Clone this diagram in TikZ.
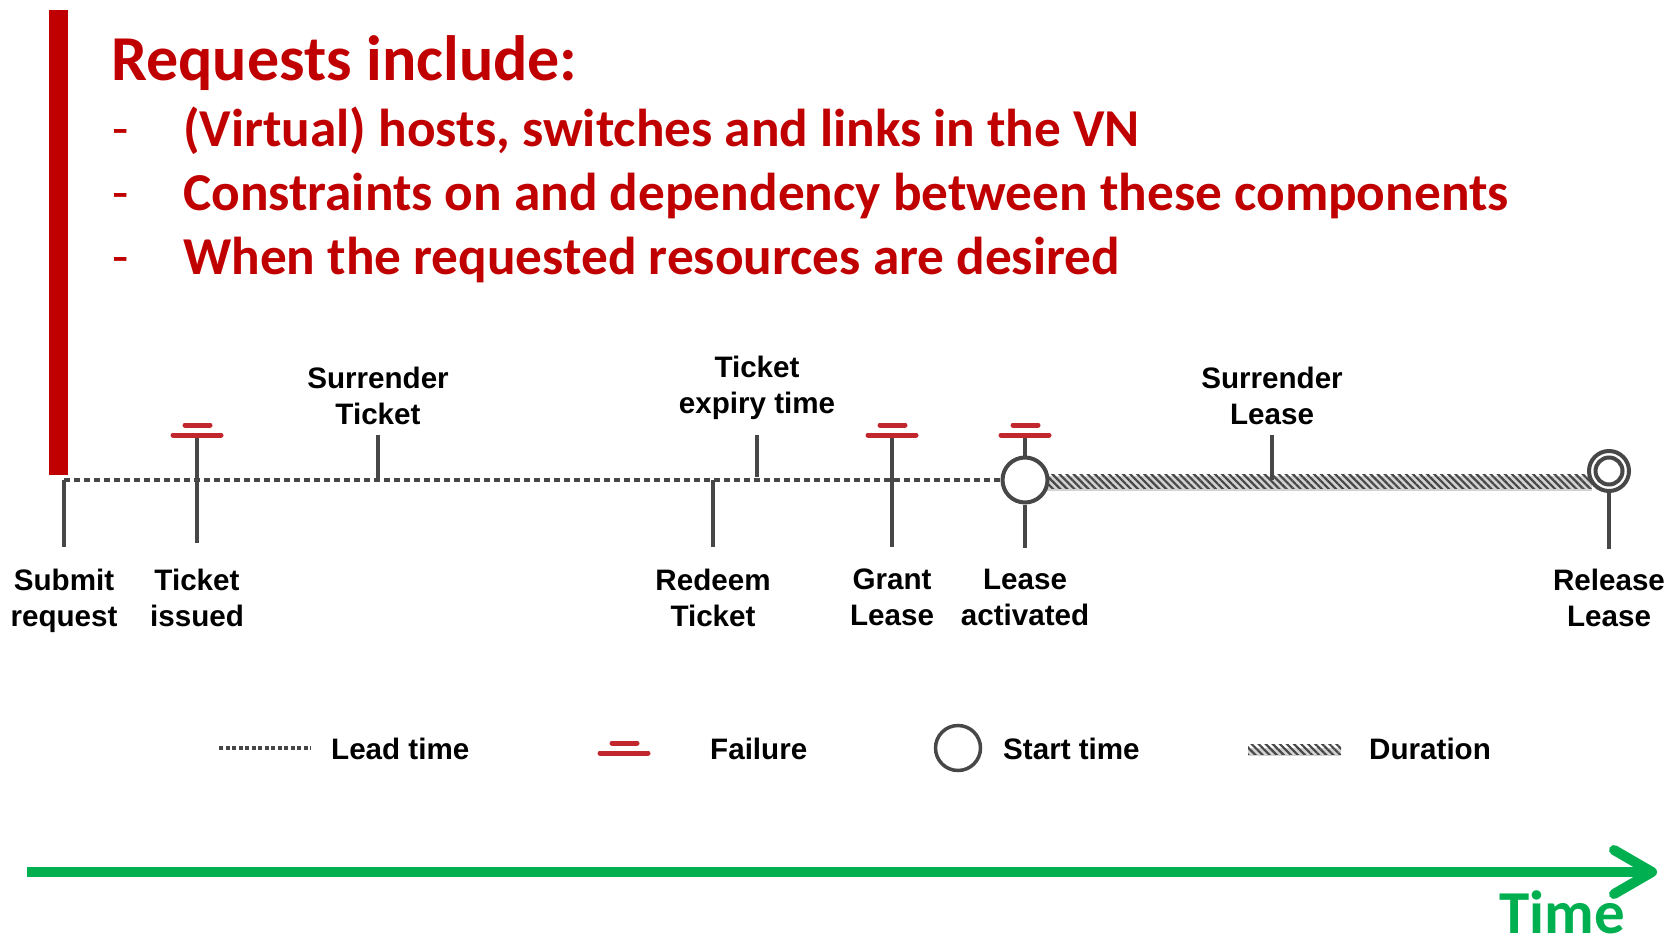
\documentclass[tikz,border=0pt]{standalone}
\usepackage{fontspec}
\setmainfont{Carlito}
\newfontfamily\labfont{Liberation Sans}
\usetikzlibrary{patterns.meta}
\definecolor{titlered}{HTML}{C00000}
\definecolor{failred}{HTML}{C1272D}
\definecolor{tickgray}{HTML}{474747}
\definecolor{timegreen}{HTML}{00B050}
\begin{document}
\begin{tikzpicture}[x=1pt,y=-1pt,
  titletext/.style={anchor=base west, inner sep=0pt, text=titlered, font=\bfseries\fontsize{64}{70}\selectfont},
  bullettext/.style={anchor=base west, inner sep=0pt, text=titlered, font=\bfseries\fontsize{53.3}{60}\selectfont},
  dashtext/.style={anchor=base west, inner sep=0pt, text=titlered, font=\fontsize{53.3}{60}\selectfont},
  lbl/.style={anchor=north, inner sep=0pt, align=center, text=black, font=\labfont\bfseries\fontsize{29.6}{36}\selectfont},
  legtext/.style={anchor=base west, inner sep=0pt, text=black, font=\labfont\bfseries\fontsize{29.6}{36}\selectfont},
  tickline/.style={draw=tickgray, line width=4pt},
  leadline/.style={draw=tickgray, line width=3.5pt, dash pattern=on 6pt off 4pt},
  failline/.style={draw=failred, line width=5pt, line cap=round},
  ring/.style={circle, draw=tickgray, line width=4pt, fill=white, inner sep=0pt},
  hatchband/.style={pattern={Lines[angle=-45,distance=5pt,line width=2.2pt]}, pattern color=tickgray},
  failmark/.pic={\draw[failline] (-24,0) -- (24,0); \draw[failline] (-12,-10) -- (13,-10);}
]
\useasboundingbox (0,0) rectangle (1673,942);
% red bar
\fill[titlered] (49,10) rectangle (68,475);
% title text
\node[titletext] (title) at (111,81) {Requests include:};
\node[dashtext] (d1) at (112,146) {-};
\node[bullettext] (b1) at (183,146) {(Virtual) hosts, switches and links in the VN};
\node[dashtext] (d2) at (112,210) {-};
\node[bullettext] (b2) at (183,210) {Constraints on and dependency between these components};
\node[dashtext] (d3) at (112,274) {-};
\node[bullettext] (b3) at (183,274) {When the requested resources are desired};

% duration band
\fill[gray!35] (1046,476) rectangle (1592,491);
\fill[hatchband] (1046,474) rectangle (1592,488);

% circles
\node[ring, minimum size=45pt] (start) at (1025,480) {};
\node[ring, minimum size=40pt] (rel) at (1609,471) {};
\draw[draw=tickgray, line width=4pt] (rel.center) circle (13.5);

% lead time line
\coordinate (sub) at (64,480);
\draw[leadline] (sub) -- (start.west);

% ticks
\coordinate (subB) at (64,547);
\draw[tickline] (sub) -- (subB);
\coordinate (tiT) at (197,435); \coordinate (tiB) at (197,543);
\draw[tickline] (tiT) -- (tiB);
\coordinate (stT) at (378,435); \coordinate (stB) at (378,480);
\draw[tickline] (stT) -- (stB);
\coordinate (rtT) at (713,480); \coordinate (rtB) at (713,547);
\draw[tickline] (rtT) -- (rtB);
\coordinate (exT) at (757,435); \coordinate (exB) at (757,477);
\draw[tickline] (exT) -- (exB);
\coordinate (glT) at (892,435); \coordinate (glB) at (892,547);
\draw[tickline] (glT) -- (glB);
\coordinate (laT) at (1025,435); \coordinate (laB) at (1025,548);
\draw[tickline] (laT) -- (start.north);
\draw[tickline] (start.south) -- (laB);
\coordinate (slT) at (1272,435); \coordinate (slB) at (1272,480);
\draw[tickline] (slT) -- (slB);
\coordinate (rlB) at (1609,549);
\draw[tickline] (rel.south) -- (rlB);

% failures
\pic at (tiT) {failmark};
\pic at (glT) {failmark};
\pic at (laT) {failmark};

% labels
\node[lbl] (l1) at (64,569) {Submit\\request};
\node[lbl] (l2) at (197,569) {Ticket\\issued};
\node[lbl] (l3) at (378,367) {Surrender\\Ticket};
\node[lbl] (l4) at (757,356) {Ticket\\expiry time};
\node[lbl] (l5) at (713,569) {Redeem\\Ticket};
\node[lbl] (l6) at (892,569) {Grant\\Lease};
\node[lbl] (l7) at (1025,569) {Lease\\activated};
\node[lbl] (l8) at (1272,367) {Surrender\\Lease};
\node[lbl] (l9) at (1609,569) {Release\\Lease};

% legend
\coordinate (lg1a) at (219,748); \coordinate (lg1b) at (311,748);
\draw[draw=tickgray, line width=3.5pt, dash pattern=on 4pt off 2.5pt] (lg1a) -- (lg1b);
\node[legtext] (lt1) at (331,759) {Lead time};
\pic at (624,753) {failmark};
\node[legtext] (lt2) at (710,759) {Failure};
\node[ring, minimum size=45pt, line width=3.5pt] (lgc) at (958,748) {};
\node[legtext] (lt3) at (1003,759) {Start time};
\fill[gray!35] (1248,748) rectangle (1341,756);
\fill[hatchband] (1248,744) rectangle (1341,754);
\node[legtext] (lt4) at (1369,759) {Duration};

% time arrow
\coordinate (ta) at (27,872); \coordinate (tb) at (1652,872);
\draw[timegreen, line width=10pt] (ta) -- (tb);
\draw[timegreen, line width=10pt, line cap=round, line join=round] (tb) ++(-38,-22) -- (tb) -- ++(-38,22);
\node[anchor=base west, inner sep=0pt, text=timegreen, font=\bfseries\fontsize{61}{66}\selectfont] (time) at (1499,933) {Time};
\end{tikzpicture}
\end{document}
